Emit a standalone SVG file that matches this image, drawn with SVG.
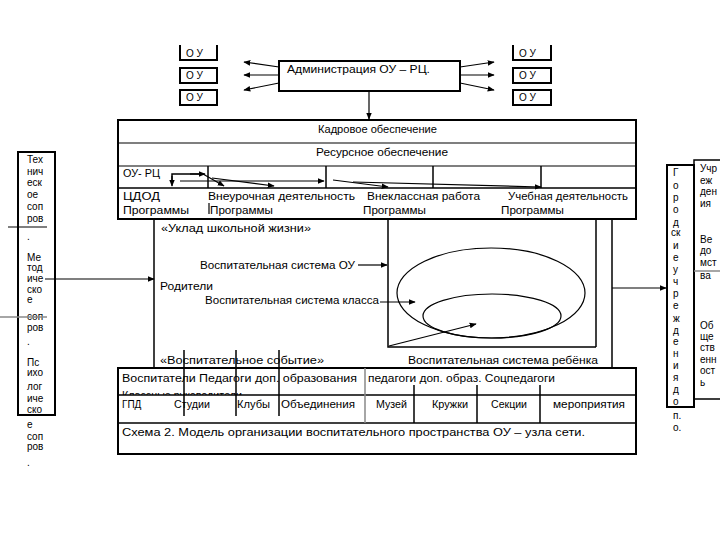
<svg xmlns="http://www.w3.org/2000/svg" width="720" height="540" viewBox="0 0 720 540">
<defs>
<style>
text{font-family:"Liberation Sans","DejaVu Sans",sans-serif;font-size:10px;fill:#000}
.b{fill:none;stroke:#000;stroke-width:2}
.t{fill:none;stroke:#000;stroke-width:1.5}
.l{fill:none;stroke:#000;stroke-width:1.2}
.g{fill:none;stroke:#888;stroke-width:1.5}
.a{fill:none;stroke:#000;stroke-width:1.2;marker-end:url(#ah)}
</style>
<marker id="ah" viewBox="0 0 10 10" refX="9" refY="5" markerWidth="7" markerHeight="7" orient="auto" markerUnits="userSpaceOnUse"><path d="M0,1 L10,5 L0,9 Z" fill="#000"/></marker>
<clipPath id="r1"><rect x="118" y="368" width="518" height="27"/></clipPath>
</defs>
<rect width="720" height="540" fill="#fff"/>

<g id="ou-left">
<path class="b" d="M180,45 V60 H217 V45"/><text x="186" y="57">О У</text>
<rect class="b" x="180" y="68" width="37" height="15"/><text x="186" y="79">О У</text>
<rect class="b" x="180" y="90" width="37" height="15"/><text x="186" y="101">О У</text>
</g>
<g id="ou-right">
<path class="b" d="M513,45 V60 H551 V45"/><text x="519" y="57">О У</text>
<rect class="b" x="513" y="68" width="38" height="15"/><text x="519" y="79">О У</text>
<rect class="b" x="513" y="90" width="38" height="15"/><text x="519" y="101">О У</text>
</g>
<g id="admin">
<rect class="b" x="279" y="61" width="181" height="30"/>
<text x="287" y="73" textLength="143" lengthAdjust="spacingAndGlyphs">Администрация ОУ – РЦ.</text>
</g>

<g id="table-top">
<rect class="b" x="118" y="120" width="518" height="99"/>
<line class="l" x1="118" y1="143" x2="636" y2="143"/>
<line class="l" x1="118" y1="166" x2="636" y2="166"/>
<line class="t" x1="118" y1="188" x2="636" y2="188"/>
<line class="t" x1="208" y1="166" x2="208" y2="188"/>
<line class="t" x1="326" y1="166" x2="326" y2="188"/>
<line class="t" x1="433" y1="166" x2="433" y2="188"/>
<line class="t" x1="541" y1="166" x2="541" y2="188"/>
<text x="318" y="133" textLength="119" lengthAdjust="spacingAndGlyphs">Кадровое обеспечение</text>
<text x="316" y="156" textLength="132" lengthAdjust="spacingAndGlyphs">Ресурсное обеспечение</text>
<text x="123" y="177" textLength="37" lengthAdjust="spacingAndGlyphs">ОУ- РЦ</text>
<text x="123" y="200" textLength="37" lengthAdjust="spacingAndGlyphs">ЦДОД</text>
<text x="123" y="214" textLength="66" lengthAdjust="spacingAndGlyphs">Программы</text>
<text x="208" y="200" textLength="147" lengthAdjust="spacingAndGlyphs">Внеурочная деятельность</text>
<text x="210" y="214" textLength="63" lengthAdjust="spacingAndGlyphs">Программы</text>
<line class="l" x1="209" y1="203" x2="209" y2="214"/>
<text x="367" y="200" textLength="113" lengthAdjust="spacingAndGlyphs">Внеклассная работа</text>
<text x="363" y="214" textLength="63" lengthAdjust="spacingAndGlyphs">Программы</text>
<text x="508" y="200" textLength="120" lengthAdjust="spacingAndGlyphs">Учебная деятельность</text>
<text x="501" y="214" textLength="63" lengthAdjust="spacingAndGlyphs">Программы</text>
</g>

<g id="left-column">
<rect class="b" x="18" y="152" width="37" height="263"/>
<text x="27" y="163">Тех</text>
<text x="27" y="175">нич</text>
<text x="27" y="186">еск</text>
<text x="27" y="198">ое</text>
<text x="27" y="210">соп</text>
<text x="27" y="222">ров</text>
<text x="27" y="240">.</text>
<text x="27" y="261">Ме</text>
<text x="27" y="271">тод</text>
<text x="27" y="282">иче</text>
<text x="27" y="293">ско</text>
<text x="27" y="303">е</text>
<text x="27" y="320">соп</text>
<text x="27" y="331">ров</text>
<text x="27" y="345">.</text>
<text x="27" y="366">Пс</text>
<text x="27" y="376">ихо</text>
<text x="27" y="390">лог</text>
<text x="27" y="402">иче</text>
<text x="27" y="413">ско</text>
<text x="27" y="428">е</text>
<text x="27" y="440">соп</text>
<text x="27" y="450">ров</text>
<text x="27" y="466">.</text>
<line class="l" x1="8" y1="227" x2="47" y2="227"/>
<line class="g" x1="0" y1="317" x2="47" y2="317"/>
</g>

<g id="middle">
<line class="t" x1="154" y1="219" x2="154" y2="368"/>
<line class="t" x1="596" y1="219" x2="596" y2="347"/>
<line class="t" x1="612" y1="219" x2="612" y2="368"/>
<path class="t" d="M388,219 V347 H596"/>
<ellipse class="l" cx="491" cy="293" rx="94" ry="45"/>
<ellipse class="l" cx="492" cy="316" rx="69" ry="22"/>
<text x="161" y="232" textLength="150" lengthAdjust="spacingAndGlyphs">«Уклад школьной жизни»</text>
<text x="200" y="269" textLength="155" lengthAdjust="spacingAndGlyphs">Воспитательная система ОУ</text>
<text x="160" y="290" textLength="53" lengthAdjust="spacingAndGlyphs">Родители</text>
<text x="205" y="304" textLength="174" lengthAdjust="spacingAndGlyphs">Воспитательная система класса</text>
<text x="160" y="364" textLength="164" lengthAdjust="spacingAndGlyphs">«Воспитательное событие»</text>
<text x="408" y="364" textLength="190" lengthAdjust="spacingAndGlyphs">Воспитательная система ребёнка</text>
</g>

<g id="right-column">
<rect class="b" x="667" y="165" width="27" height="242"/>
<text x="673" y="176">Г</text>
<text x="673" y="189">о</text>
<text x="673" y="201">р</text>
<text x="673" y="213">о</text>
<text x="673" y="226">д</text>
<text x="671" y="236">ск</text>
<text x="673" y="249">и</text>
<text x="673" y="261">е</text>
<text x="673" y="273">у</text>
<text x="673" y="285">ч</text>
<text x="673" y="297">р</text>
<text x="673" y="309">е</text>
<text x="673" y="322">ж</text>
<text x="673" y="334">д</text>
<text x="673" y="345">е</text>
<text x="673" y="357">н</text>
<text x="673" y="369">и</text>
<text x="673" y="381">я</text>
<text x="673" y="393">д</text>
<text x="673" y="405">о</text>
<text x="673" y="419">п.</text>
<text x="673" y="431">о.</text>
</g>
<g id="far-right">
<path class="t" d="M720,160 H694 V399 H720"/>
<text x="700" y="172">Учр</text>
<text x="700" y="184">еж</text>
<text x="700" y="195">ден</text>
<text x="700" y="207">ия</text>
<text x="700" y="243">Ве</text>
<text x="700" y="254">до</text>
<text x="700" y="266">мст</text>
<text x="700" y="279">ва</text>
<line class="g" x1="694" y1="271" x2="720" y2="271"/>
<text x="700" y="329">Об</text>
<text x="700" y="340">ще</text>
<text x="700" y="351">ств</text>
<text x="700" y="363">енн</text>
<text x="700" y="374">ост</text>
<text x="700" y="386">ь</text>
</g>

<g id="table-bottom">
<rect class="b" x="118" y="368" width="518" height="86"/>
<line class="t" x1="118" y1="395" x2="636" y2="395"/>
<line class="t" x1="118" y1="423" x2="636" y2="423"/>
<line class="g" x1="365" y1="368" x2="365" y2="423"/>
<line class="t" x1="414" y1="385" x2="414" y2="423"/>
<line class="t" x1="477" y1="385" x2="477" y2="423"/>
<line class="t" x1="540" y1="385" x2="540" y2="423"/>
<line class="t" x1="184" y1="350" x2="184" y2="416"/>
<line class="t" x1="236" y1="350" x2="236" y2="416"/>
<line class="t" x1="279" y1="350" x2="279" y2="416"/>
<g clip-path="url(#r1)">
<text x="122" y="382" textLength="235" lengthAdjust="spacingAndGlyphs">Воспитатели  Педагоги доп. образования</text>
<text x="368" y="382" textLength="187" lengthAdjust="spacingAndGlyphs">педагоги доп. образ.  Соцпедагоги</text>
<text x="122" y="399" textLength="120" lengthAdjust="spacingAndGlyphs">Классные руководители</text>
</g>
<text x="122" y="408">ГПД</text>
<text x="174" y="408" textLength="36" lengthAdjust="spacingAndGlyphs">Студии</text>
<text x="237" y="408" textLength="33" lengthAdjust="spacingAndGlyphs">Клубы</text>
<text x="281" y="408" textLength="74" lengthAdjust="spacingAndGlyphs">Объединения</text>
<text x="376" y="408" textLength="31" lengthAdjust="spacingAndGlyphs">Музей</text>
<text x="432" y="408" textLength="36" lengthAdjust="spacingAndGlyphs">Кружки</text>
<text x="491" y="408" textLength="36" lengthAdjust="spacingAndGlyphs">Секции</text>
<text x="553" y="408" textLength="72" lengthAdjust="spacingAndGlyphs">мероприятия</text>
<text x="122" y="436" textLength="463" lengthAdjust="spacingAndGlyphs">Схема 2. Модель организации воспитательного пространства ОУ – узла сети.</text>
</g>

<g id="connectors">
<line class="a" x1="279" y1="67" x2="244" y2="62"/>
<line class="a" x1="279" y1="75" x2="244" y2="75"/>
<line class="a" x1="279" y1="83" x2="244" y2="90"/>
<line class="a" x1="460" y1="67" x2="494" y2="62"/>
<line class="a" x1="460" y1="75" x2="494" y2="75"/>
<line class="a" x1="460" y1="83" x2="494" y2="90"/>
<line class="a" x1="369" y1="91" x2="369" y2="119"/>
<path class="t" d="M172,184 V174 H203" />
<line class="a" x1="172" y1="176" x2="172" y2="186"/>
<line class="a" x1="190" y1="174" x2="205" y2="174"/>
<line class="a" x1="180" y1="181" x2="324" y2="181"/>
<line class="a" x1="203" y1="174" x2="224" y2="186"/>
<line class="a" x1="212" y1="178" x2="274" y2="186"/>
<line class="a" x1="333" y1="180" x2="388" y2="187"/>
<line class="a" x1="353" y1="182" x2="541" y2="187"/>
<line class="a" x1="45" y1="279" x2="154" y2="279"/>
<line class="a" x1="358" y1="265" x2="387" y2="265"/>
<line class="a" x1="380" y1="302" x2="415" y2="302"/>
<line class="a" x1="389" y1="346" x2="476" y2="324"/>
<line class="a" x1="612" y1="288" x2="666" y2="288"/>
</g>
</svg>
